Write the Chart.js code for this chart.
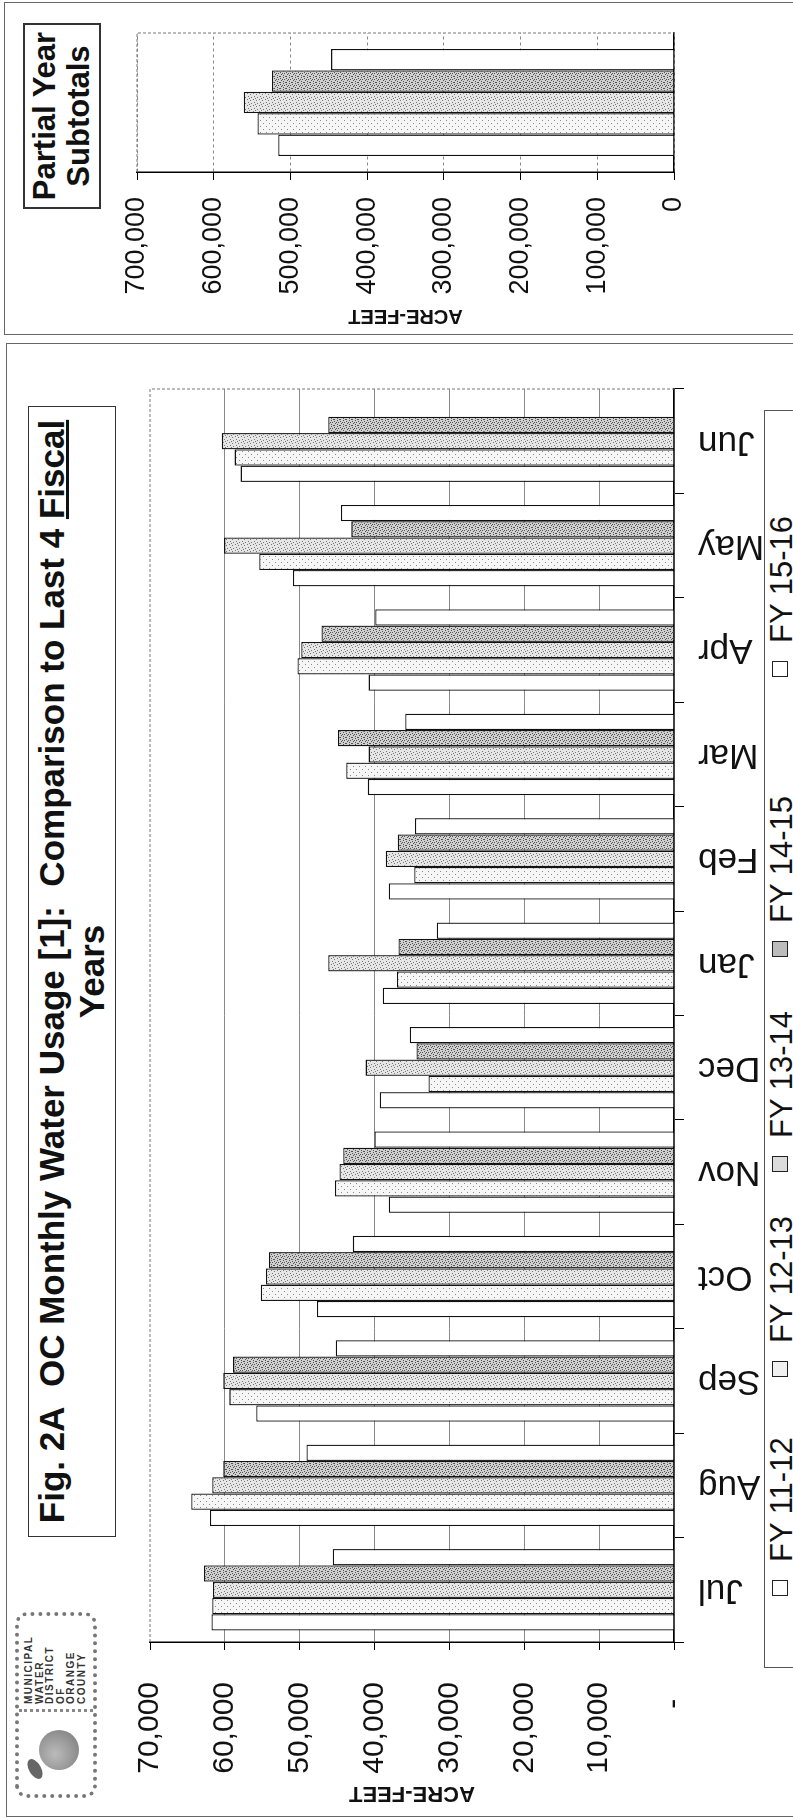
<!DOCTYPE html>
<html>
<head>
<meta charset="utf-8">
<script src="https://cdn.jsdelivr.net/npm/chart.js@4/dist/chart.umd.min.js"></script>
<style>
  html, body { margin: 0; padding: 0; background: #fff; }
  body { width: 793px; height: 1818px; overflow: hidden; position: relative; }
  /* the page is printed landscape and scanned sideways */
  #page {
    position: absolute; left: 0; top: 0; width: 1818px; height: 793px;
    transform-origin: 0 0; transform: translate(0px, 1818px) rotate(-90deg);
    overflow: hidden; font-family: "Liberation Sans", Arial, sans-serif; color: #111;
  }
  .panel { position: absolute; border: 1.5px solid #666; box-sizing: border-box; }
  canvas { position: absolute; }
  #title {
    position: absolute; left: 281px; top: 28px; width: 1131px; height: 88px;
    box-sizing: border-box; border: 1.5px solid #333; text-align: center;
    font-size: 35px; font-weight: bold; line-height: 40px; padding-top: 3px;
  }
  #subTitle {
    position: absolute; left: 1609px; top: 23px; width: 186px; height: 78px;
    box-sizing: border-box; border: 2px solid #333; text-align: center;
    font-size: 31px; font-weight: bold; line-height: 34px; padding-top: 3px;
  }
  #logo {
    position: absolute; left: 20px; top: 15px; width: 186px; height: 82px;
    box-sizing: border-box; border: 4px dotted #777; border-radius: 12px; overflow: hidden;
  }
  #logo .orange { position: absolute; left: 0; top: 0; width: 82px; height: 74px; border-right: 3px dotted #888; }
  #logo .fruit { position: absolute; left: 24px; top: 20px; width: 40px; height: 40px; border-radius: 50%;
    background: radial-gradient(circle at 40% 40%, #bbb, #777); }
  #logo .leaf { position: absolute; left: 14px; top: 10px; width: 22px; height: 12px; border-radius: 50%;
    background: #666; transform: rotate(-30deg); }
  #logo .txt { position: absolute; left: 90px; top: 5px; font-size: 10px; font-weight: bold;
    line-height: 10.6px; letter-spacing: 1.5px; color: #333; }
  #legend {
    position: absolute; left: 150px; top: 764px; width: 1258px; height: 80px;
    box-sizing: border-box; border: 1.5px solid #555;
  }
  .lg { position: absolute; top: 0; white-space: nowrap; }
  .lg .sw { position: absolute; top: 7px; width: 16px; height: 16px; box-sizing: border-box; border: 1.5px solid #222; }
  .lg .tx { position: absolute; left: 34px; top: 1px; font-size: 31px; line-height: 31px; }
</style>
</head>
<body>
<div id="page">
  <div class="panel" style="left:1px; top:6px; width:1474px; height:900px;"></div>
  <div class="panel" style="left:1483px; top:4px; width:333px; height:900px;"></div>

  <div id="logo">
    <div class="orange"><div class="fruit"></div><div class="leaf"></div></div>
    <div class="txt">MUNICIPAL<br>WATER<br>DISTRICT<br>OF<br>ORANGE<br>COUNTY</div>
  </div>
  <div id="title">Fig. 2A&nbsp; OC Monthly Water Usage [1]:&nbsp; Comparison to Last 4 <u>Fiscal</u><br>Years</div>
  <div id="subTitle">Partial Year<br>Subtotals</div>

  <canvas id="mainChart" width="1475" height="664" style="left:0; top:100px; width:1475px; height:664px;"></canvas>
  <canvas id="subChart" width="332" height="664" style="left:1483px; top:100px; width:332px; height:664px;"></canvas>

  <div id="legend"></div>
</div>

<script>
// values (acre-feet)
const months = ['Jul', 'Aug', 'Sep', 'Oct', 'Nov', 'Dec', 'Jan', 'Feb', 'Mar', 'Apr', 'May', 'Jun'];
const seriesNames = ['FY 11-12', 'FY 12-13', 'FY 13-14', 'FY 14-15', 'FY 15-16'];
const fy1112 = [61800, 62000, 55800, 47700, 38100, 39300, 38900, 38100, 40900, 40800, 50900, 57900];
const fy1213 = [61700, 64500, 59400, 55200, 45300, 32800, 37000, 34700, 43800, 50300, 55400, 58700];
const fy1314 = [61600, 61700, 60200, 54500, 44700, 41200, 46200, 38500, 40800, 49800, 60100, 60400];
const fy1415 = [62800, 60200, 58900, 54100, 44200, 34400, 36800, 36900, 44900, 47100, 43100, 46200];
const fy1516 = [45600, 49100, 45200, 42900, 40000, 35300, 31700, 34600, 35900, 39900, 44500, null];
const subtotals = [516000, 543000, 561000, 524000, 447000];
const mainMax = 70000, mainStep = 10000;
const subMax = 700000, subStep = 100000;
const legendStarts = [221, 440, 645, 860, 1140];

Chart.defaults.font.family = '"Liberation Sans", Arial, sans-serif';
Chart.defaults.color = '#111';

// stippled fills like the printed hatching
function stipple(bg, dot, pts) {
    const c = document.createElement('canvas');
    c.width = 6; c.height = 6;
    const x = c.getContext('2d');
    x.fillStyle = bg; x.fillRect(0, 0, 6, 6);
    x.fillStyle = dot;
    pts.forEach(p => x.fillRect(p[0], p[1], 1, 1));
    return x.createPattern(c, 'repeat');
}
const fills = [
    '#ffffff',
    stipple('#f6f6f6', '#8a8a8a', [[1, 1], [4, 4]]),
    stipple('#e6e6e6', '#777', [[0, 0], [3, 1], [1, 3], [4, 4], [2, 5]]),
    stipple('#cfcfcf', '#555', [[0, 0], [2, 1], [4, 0], [1, 3], [3, 2], [5, 3], [0, 5], [3, 4]]),
    '#ffffff'
];
const swatch = ['#fff', '#f1f1f1', '#dcdcdc', '#bcbcbc', '#fff'];

const frame = {
    id: 'frame',
    beforeDatasetsDraw(chart) {
        const {ctx, chartArea: a} = chart;
        ctx.save();
        ctx.strokeStyle = '#777';
        ctx.lineWidth = 1;
        ctx.setLineDash([3, 2]);
        ctx.beginPath();
        ctx.moveTo(a.left, a.top); ctx.lineTo(a.right, a.top); ctx.lineTo(a.right, a.bottom);
        ctx.stroke();
        ctx.restore();
    }
};

const monthly = [fy1112, fy1213, fy1314, fy1415, fy1516];

new Chart(document.getElementById('mainChart'), {
    type: 'bar',
    data: {
        labels: months,
        datasets: monthly.map((vals, i) => ({
            label: seriesNames[i],
            data: vals,
            backgroundColor: fills[i],
            borderColor: '#111',
            borderWidth: 1.3,
            categoryPercentage: 0.78,
            barPercentage: 1.0
        }))
    },
    options: {
        responsive: false,
        animation: false,
        layout: {padding: {left: 0, right: 46, top: 37, bottom: 0}},
        plugins: {legend: {display: false}, tooltip: {enabled: false}},
        scales: {
            x: {
                grid: {drawOnChartArea: false, drawTicks: true, tickLength: 10, color: '#000', offset: true},
                border: {color: '#000', width: 1.5},
                ticks: {font: {size: 35}, color: '#111', minRotation: 90, maxRotation: 90, autoSkip: false, padding: 14},
                afterFit: s => { s.height = 90; }
            },
            y: {
                min: 0, max: mainMax,
                grid: {color: c => c.tick && c.tick.value === mainMax ? 'rgba(0,0,0,0)' : '#8a8a8a', tickLength: 8, tickColor: '#000'},
                border: {color: '#000', width: 1.5},
                ticks: {
                    stepSize: mainStep, font: {size: 30}, color: '#111', padding: 32,
                    callback: v => v === 0 ? '-  ' : v.toLocaleString('en-US')
                },
                title: {display: true, text: 'ACRE-FEET', font: {size: 22, weight: 'bold'}, color: '#111', padding: {top: 12, bottom: 0}},
                afterFit: s => { s.width = 176; }
            }
        }
    },
    plugins: [frame]
});

new Chart(document.getElementById('subChart'), {
    type: 'bar',
    data: {
        labels: [''],
        datasets: subtotals.map((v, i) => ({
            label: seriesNames[i],
            data: [v],
            backgroundColor: fills[i],
            borderColor: '#111',
            borderWidth: 1.3,
            categoryPercentage: 0.77,
            barPercentage: 1.0
        }))
    },
    options: {
        responsive: false,
        animation: false,
        layout: {padding: {left: 0, right: 30, top: 37, bottom: 0}},
        plugins: {legend: {display: false}, tooltip: {enabled: false}},
        scales: {
            x: {
                grid: {drawOnChartArea: false, drawTicks: false},
                border: {color: '#000', width: 1.5},
                ticks: {display: false},
                afterFit: s => { s.height = 90; }
            },
            y: {
                min: 0, max: subMax,
                grid: {color: '#888', tickLength: 8, tickColor: '#000'},
                border: {color: '#000', width: 1.5, dash: [3, 3]},
                ticks: {stepSize: subStep, font: {size: 27}, color: '#111', padding: 17,
                        callback: v => v.toLocaleString('en-US')},
                title: {display: true, text: 'ACRE-FEET', font: {size: 20, weight: 'bold'}, color: '#111', padding: {top: 7, bottom: 0}},
                afterFit: s => { s.width = 163; }
            }
        }
    },
    plugins: [frame]
});

// legend strip along the bottom edge of the sheet
const legend = document.getElementById('legend');
seriesNames.forEach((name, i) => {
    const item = document.createElement('div');
    item.className = 'lg';
    item.style.left = (legendStarts[i] - 150) + 'px';
    const sw = document.createElement('div');
    sw.className = 'sw';
    sw.style.background = swatch[i];
    const tx = document.createElement('div');
    tx.className = 'tx';
    tx.textContent = name;
    item.appendChild(sw);
    item.appendChild(tx);
    legend.appendChild(item);
});
</script>
</body>
</html>
